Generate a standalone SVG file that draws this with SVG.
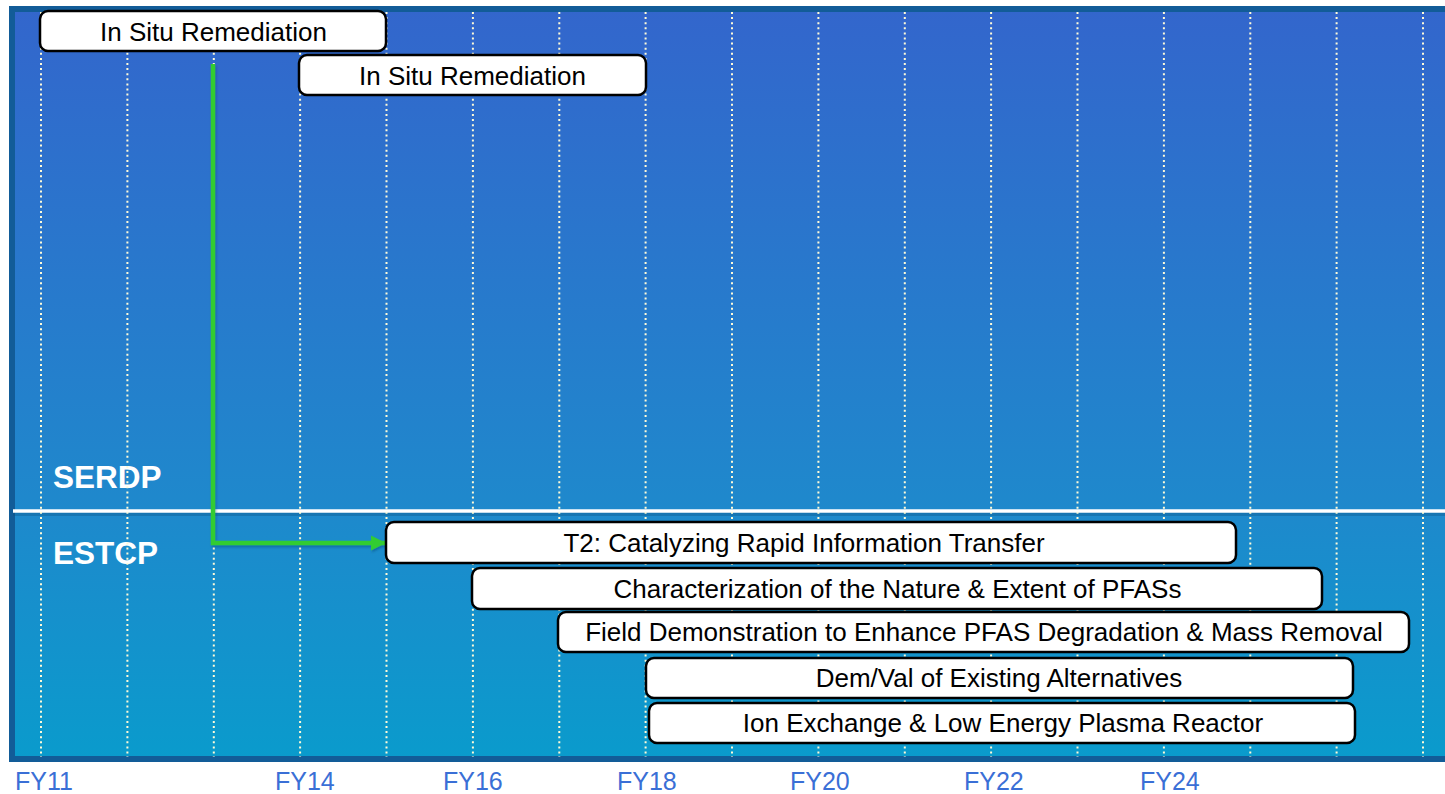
<svg xmlns="http://www.w3.org/2000/svg" width="1445" height="794" viewBox="0 0 1445 794">
<defs>
<linearGradient id="bg" x1="0" y1="0" x2="0" y2="1">
<stop offset="0" stop-color="#3366cc"/>
<stop offset="0.65" stop-color="#1f88cc"/>
<stop offset="1" stop-color="#0a9bcc"/>
</linearGradient>
<marker id="arr" markerWidth="16" markerHeight="16" refX="15" refY="8" orient="auto" markerUnits="userSpaceOnUse">
<path d="M0,0.5 L15,8 L0,15.5 Z" fill="#33cc33"/>
</marker>
<filter id="sh" x="-5%" y="-5%" width="110%" height="120%">
<feDropShadow dx="1" dy="2" stdDeviation="1.2" flood-color="#0a3060" flood-opacity="0.35"/>
</filter>
</defs>
<style>
.grid line{stroke:#fffbd8;stroke-width:2;stroke-dasharray:2 3.1}
.box rect{fill:#ffffff;stroke:#000000;stroke-width:2.5}
.box text{font-family:"Liberation Sans",Arial,sans-serif;font-size:26px;fill:#000000;text-anchor:middle}
.prog{font-family:"Liberation Sans",Arial,sans-serif;font-size:31.5px;font-weight:bold;fill:#ffffff}
.fy{font-family:"Liberation Sans",Arial,sans-serif;font-size:25px;fill:#3a6fd6}
</style>
<rect x="0" y="0" width="1445" height="794" fill="#ffffff"/>
<rect x="12" y="9" width="1440" height="750" fill="url(#bg)" stroke="#125c98" stroke-width="6"/>
<line x1="13" y1="514" x2="1445" y2="514" stroke="#0b4f80" stroke-width="4" stroke-opacity="0.35"/>
<line x1="13" y1="511" x2="1445" y2="511" stroke="#ffffff" stroke-width="3.5"/>
<text class="prog" x="53" y="488">SERDP</text>
<text class="prog" x="53" y="564">ESTCP</text>
<g class="grid">
<line x1="41" y1="12" x2="41" y2="757"/>
<line x1="127.4" y1="12" x2="127.4" y2="757"/>
<line x1="213.8" y1="12" x2="213.8" y2="757"/>
<line x1="300.1" y1="12" x2="300.1" y2="757"/>
<line x1="386.5" y1="12" x2="386.5" y2="757"/>
<line x1="472.9" y1="12" x2="472.9" y2="757"/>
<line x1="559.3" y1="12" x2="559.3" y2="757"/>
<line x1="645.6" y1="12" x2="645.6" y2="757"/>
<line x1="732" y1="12" x2="732" y2="757"/>
<line x1="818.4" y1="12" x2="818.4" y2="757"/>
<line x1="904.8" y1="12" x2="904.8" y2="757"/>
<line x1="991.1" y1="12" x2="991.1" y2="757"/>
<line x1="1077.5" y1="12" x2="1077.5" y2="757"/>
<line x1="1163.9" y1="12" x2="1163.9" y2="757"/>
<line x1="1250.3" y1="12" x2="1250.3" y2="757"/>
<line x1="1336.6" y1="12" x2="1336.6" y2="757"/>
<line x1="1423" y1="12" x2="1423" y2="757"/>
</g>
<g id="connectors">
<path d="M213,64 L213,543 L386,543" fill="none" stroke="#33cc33" stroke-width="4.5" marker-end="url(#arr)" filter="url(#sh)"/>
</g>
<g id="serdp1" class="box"><rect x="40" y="11" width="346" height="40" rx="8"/><text x="213.5" y="41">In Situ Remediation</text></g>
<g id="serdp2" class="box"><rect x="299" y="55" width="347" height="40" rx="8"/><text x="472.5" y="84.5">In Situ Remediation</text></g>
<g id="t2" class="box"><rect x="386" y="522" width="850" height="41" rx="8"/><text x="804" y="552">T2: Catalyzing Rapid Information Transfer</text></g>
<g id="char" class="box"><rect x="472" y="568" width="850" height="41" rx="8"/><text x="897.5" y="598">Characterization of the Nature &amp; Extent of PFASs</text></g>
<g id="field" class="box"><rect x="558" y="612" width="851" height="40" rx="8"/><text x="984" y="641">Field Demonstration to Enhance PFAS Degradation &amp; Mass Removal</text></g>
<g id="demval" class="box"><rect x="646" y="658" width="707" height="40" rx="8"/><text x="999" y="687">Dem/Val of Existing Alternatives</text></g>
<g id="ion" class="box"><rect x="649" y="703" width="706" height="40" rx="8"/><text x="1003" y="732">Ion Exchange &amp; Low Energy Plasma Reactor</text></g>
<text class="fy" x="15" y="790">FY11</text>
<text class="fy" x="275" y="790">FY14</text>
<text class="fy" x="443" y="790">FY16</text>
<text class="fy" x="617" y="790">FY18</text>
<text class="fy" x="790" y="790">FY20</text>
<text class="fy" x="964" y="790">FY22</text>
<text class="fy" x="1140" y="790">FY24</text>
</svg>
